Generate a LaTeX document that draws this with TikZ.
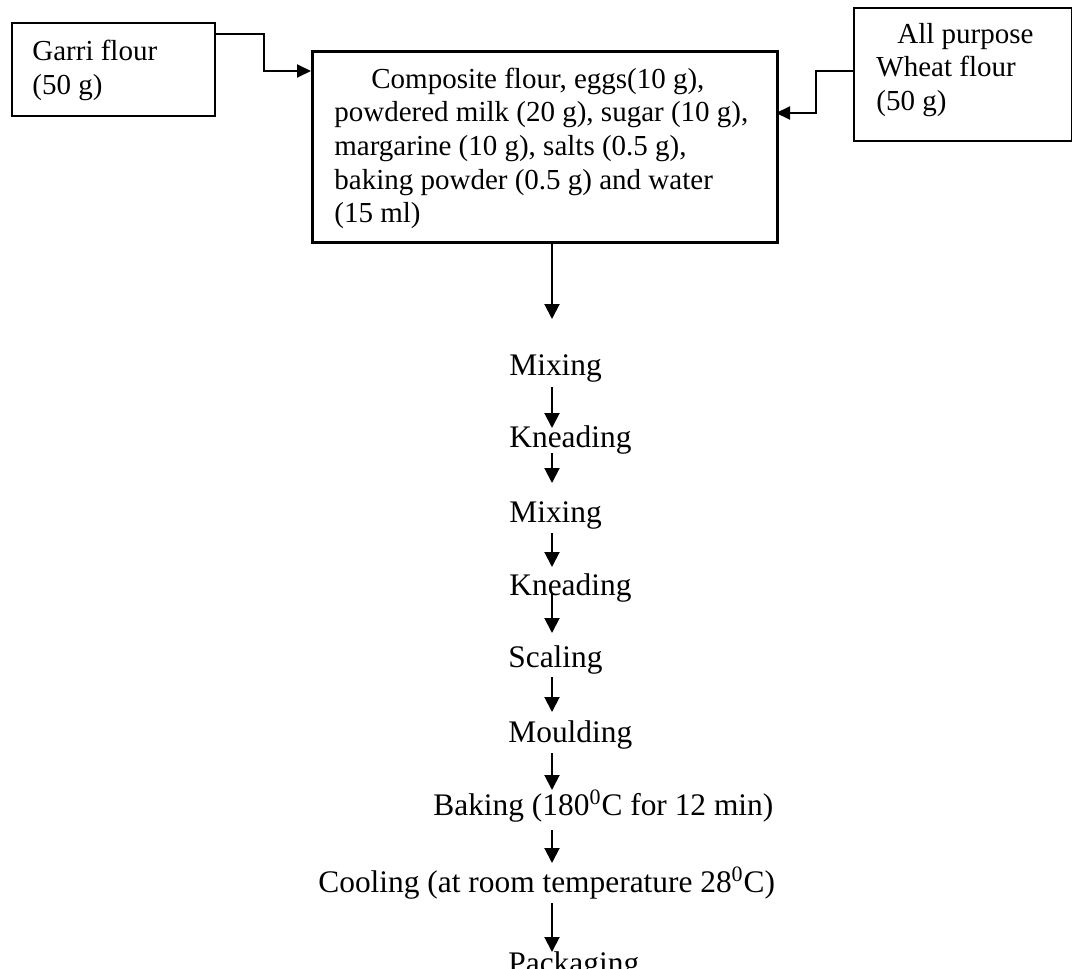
\documentclass[tikz,border=0pt]{standalone}
\usepackage{fontspec}
\setmainfont{Liberation Serif}
\usetikzlibrary{arrows.meta}
\newcommand{\lines}[1]{\begin{tabular}[t]{@{}l@{}}#1\end{tabular}}
\begin{document}
\begin{tikzpicture}[x=0.5pt,y=-0.5pt,
  boxtxt/.style={inner sep=0pt, anchor=base west, font=\fontsize{14.5pt}{16.85pt}\selectfont},
  steptxt/.style={inner sep=0pt, anchor=base west, font=\fontsize{15.7pt}{18pt}\selectfont},
  thinbox/.style={draw, line width=0.75pt, inner sep=0pt},
  thickbox/.style={draw, line width=1.5pt, inner sep=0pt},
  conn/.style={line width=1pt, -{Triangle[length=7.5pt,width=7.5pt]}},
  elbow/.style={line width=1pt, -{Triangle[length=7pt,width=6.5pt]}}]
\useasboundingbox (0,0) rectangle (1072,969);
% input boxes
\node[thinbox, minimum width=101.5pt, minimum height=46.5pt, anchor=north west] (garri) at (11,22) {};
\node[boxtxt] (garrit) at (32,61) {\lines{Garri flour\\(50 g)}};
\node[thinbox, minimum width=109pt, minimum height=66.5pt, anchor=north west] (wheat) at (853,7) {};
\node[boxtxt] (wheatt) at (876,43) {\lines{\hspace*{10.5pt}All purpose\\Wheat flour\\(50 g)}};
% main box
\node[thickbox, minimum width=232.5pt, minimum height=95.5pt, anchor=north west] (comp) at (311,50) {};
\node[boxtxt] (compt) at (334,88) {\lines{\hspace*{18.5pt}Composite flour, eggs(10 g),\\powdered milk (20 g), sugar (10 g),\\margarine (10 g), salts (0.5 g),\\baking powder (0.5 g) and water\\(15 ml)}};
% elbow connectors
\coordinate (g0) at (214,34);
\coordinate (g1) at (264,34);
\coordinate (g2) at (311,71);
\draw[elbow] (g0) -- (g1) |- (g2);
\coordinate (w0) at (853,71);
\coordinate (w1) at (816,71);
\coordinate (w2) at (776,113);
\draw[elbow] (w0) -- (w1) |- (w2);
% steps
\node[steptxt] (s1) at (509,375) {Mixing};
\node[steptxt] (s2) at (509,447) {Kneading};
\node[steptxt] (s3) at (509,522) {Mixing};
\node[steptxt] (s4) at (509,595) {Kneading};
\node[steptxt] (s5) at (508,667) {Scaling};
\node[steptxt] (s6) at (508,742) {Moulding};
\node[steptxt] (s7) at (433,815) {Baking (180\textsuperscript{0}C for 12 min)};
\node[steptxt] (s8) at (318,892) {Cooling (at room temperature 28\textsuperscript{0}C)};
\node[steptxt] (s9) at (508,973) {Packaging};
% step arrows
\coordinate (a0s) at (552,241); \coordinate (a0e) at (552,319);
\coordinate (a1s) at (552,387); \coordinate (a1e) at (552,428);
\coordinate (a2s) at (552,453); \coordinate (a2e) at (552,483);
\coordinate (a3s) at (552,533); \coordinate (a3e) at (552,567);
\coordinate (a4s) at (552,593); \coordinate (a4e) at (552,633);
\coordinate (a5s) at (552,677); \coordinate (a5e) at (552,712);
\coordinate (a6s) at (552,753); \coordinate (a6e) at (552,790);
\coordinate (a7s) at (552,830); \coordinate (a7e) at (552,863);
\coordinate (a8s) at (552,903); \coordinate (a8e) at (552,952);
\foreach \i in {0,...,8} {\draw[conn] (a\i s) -- (a\i e);}
\end{tikzpicture}
\end{document}
